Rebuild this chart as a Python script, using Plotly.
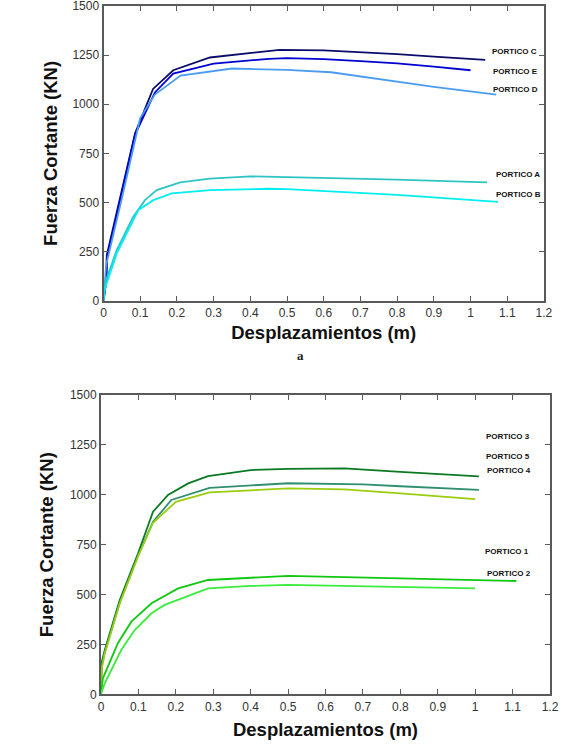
import plotly.graph_objects as go

# top chart (a): porticos A-E
top_names = ["PORTICO C", "PORTICO E", "PORTICO D", "PORTICO A", "PORTICO B"]
top_x = [
    [0, 0.008, 0.009, 0.05, 0.086, 0.135, 0.19, 0.29, 0.48, 0.6, 0.7, 0.8, 0.9, 1.04],
    [0, 0.008, 0.009, 0.05, 0.086, 0.14, 0.19, 0.3, 0.45, 0.5, 0.6, 0.7, 0.8, 0.9, 1.0],
    [0, 0.007, 0.05, 0.1, 0.14, 0.21, 0.35, 0.5, 0.62, 0.8, 0.9, 1.07],
    [0, 0.004, 0.036, 0.081, 0.113, 0.145, 0.209, 0.29, 0.4, 0.5, 0.8, 1.045],
    [0, 0.004, 0.036, 0.095, 0.136, 0.186, 0.29, 0.45, 0.5, 0.8, 1.075],
]
top_y = [
    [0, 110, 232, 560, 852, 1078, 1173, 1238, 1277, 1274, 1265, 1255, 1242, 1226],
    [0, 105, 215, 545, 845, 1060, 1156, 1207, 1231, 1235, 1230, 1220, 1208, 1192, 1173],
    [0, 180, 520, 930, 1049, 1146, 1182, 1175, 1163, 1117, 1088, 1049],
    [0, 88, 258, 428, 512, 563, 602, 622, 633, 629, 616, 602],
    [0, 63, 240, 462, 512, 546, 563, 570, 568, 539, 503],
]
top_colors = ["#0b0b6b", "#0000d0", "#4a9cf2", "#2fc4c4", "#00eef2"]

# bottom chart: porticos 1-5
bot_names = ["PORTICO 3", "PORTICO 5", "PORTICO 4", "PORTICO 1", "PORTICO 2"]
bot_x = [
    [0, 0.001, 0.01, 0.05, 0.099, 0.139, 0.179, 0.233, 0.286, 0.4, 0.5, 0.65, 0.8, 1.01],
    [0, 0.002, 0.01, 0.05, 0.1, 0.139, 0.188, 0.29, 0.5, 0.7, 0.8, 1.01],
    [0, 0.002, 0.01, 0.05, 0.1, 0.139, 0.2, 0.29, 0.5, 0.65, 0.8, 1.0],
    [0, 0.005, 0.045, 0.081, 0.135, 0.206, 0.286, 0.5, 0.8, 1.11],
    [0, 0.01, 0.054, 0.09, 0.135, 0.17, 0.286, 0.4, 0.5, 0.8, 1.0],
]
bot_y = [
    [0, 155, 222, 473, 707, 915, 999, 1057, 1094, 1124, 1130, 1132, 1115, 1092],
    [0, 140, 210, 460, 700, 865, 974, 1035, 1058, 1052, 1043, 1025],
    [0, 130, 205, 455, 695, 860, 965, 1012, 1032, 1027, 1007, 978],
    [0, 80, 256, 364, 456, 531, 573, 594, 581, 568],
    [0, 55, 222, 322, 406, 448, 531, 543, 549, 539, 531],
]
bot_colors = ["#0a7a22", "#2f8f70", "#9ccc10", "#10c810", "#3cec3c"]

FONT = "Liberation Sans, Arial, sans-serif"

fig = go.Figure()
for name, xs, ys, color in zip(top_names, top_x, top_y, top_colors):
    fig.add_trace(go.Scatter(x=xs, y=ys, mode="lines", name=name,
                             line={"color": color, "width": 1.8},
                             xaxis="x", yaxis="y", showlegend=False))
for name, xs, ys, color in zip(bot_names, bot_x, bot_y, bot_colors):
    fig.add_trace(go.Scatter(x=xs, y=ys, mode="lines", name=name,
                             line={"color": color, "width": 1.8},
                             xaxis="x2", yaxis="y2", showlegend=False))

axis_style = dict(
    showgrid=False, zeroline=False, showline=True, mirror="ticks",
    linecolor="#5a5a5a", linewidth=2, ticks="inside", ticklen=5,
    tickcolor="#5a5a5a", tickwidth=1, automargin=False, ticklabeloverflow="allow",
    tickfont={"family": FONT, "size": 12, "color": "#333333"},
)
title_font = {"family": FONT, "size": 18.5, "color": "#111111", "weight": "bold"}

fig.update_layout(
    width=575, height=744,
    margin={"l": 0, "r": 0, "t": 0, "b": 0},
    paper_bgcolor="white", plot_bgcolor="white",
    xaxis=dict(axis_style, domain=[0.18, 0.946], anchor="y", range=[0, 1.2], dtick=0.1,
               title={"text": "Desplazamientos (m)", "font": title_font, "standoff": 7}),
    yaxis=dict(axis_style, domain=[0.5958, 0.9919], anchor="x", range=[0, 1500], dtick=250,
               title={"text": "Fuerza Cortante (KN)", "font": title_font, "standoff": 10}),
    xaxis2=dict(axis_style, domain=[0.1757, 0.9565], anchor="y2", range=[0, 1.2], dtick=0.1,
                title={"text": "Desplazamientos (m)", "font": title_font, "standoff": 10}),
    yaxis2=dict(axis_style, domain=[0.0668, 0.469], anchor="x2", range=[0, 1500], dtick=250,
                title={"text": "Fuerza Cortante (KN)", "font": title_font, "standoff": 11}),
)

label_font = {"family": FONT, "size": 8, "color": "#111111", "weight": "bold"}
top_label_pos = [(1.052, 1266), (1.057, 1169), (1.057, 1077), (1.063, 640), (1.063, 543)]
for name, (lx, ly) in zip(top_names, top_label_pos):
    fig.add_annotation(x=lx, y=ly, xref="x", yref="y", text=name, showarrow=False,
                       xanchor="left", yanchor="middle", font=label_font)
bot_label_pos = [(1.024, 1290), (1.024, 1194), (1.026, 1124), (1.021, 718), (1.026, 608)]
for name, (lx, ly) in zip(bot_names, bot_label_pos):
    fig.add_annotation(x=lx, y=ly, xref="x2", yref="y2", text=name, showarrow=False,
                       xanchor="left", yanchor="middle", font=label_font)

fig.add_annotation(x=300 / 575, y=1 - 355 / 744, xref="paper", yref="paper", text="<b>a</b>",
                   showarrow=False, xanchor="center", yanchor="middle",
                   font={"family": "Liberation Serif, Times New Roman, serif", "size": 13, "color": "#222222"})

# drop the default body margin so the figure sits at the page origin
fig.write_html("out.html", config={"displayModeBar": False},
               post_script="document.body.style.margin='0';")
